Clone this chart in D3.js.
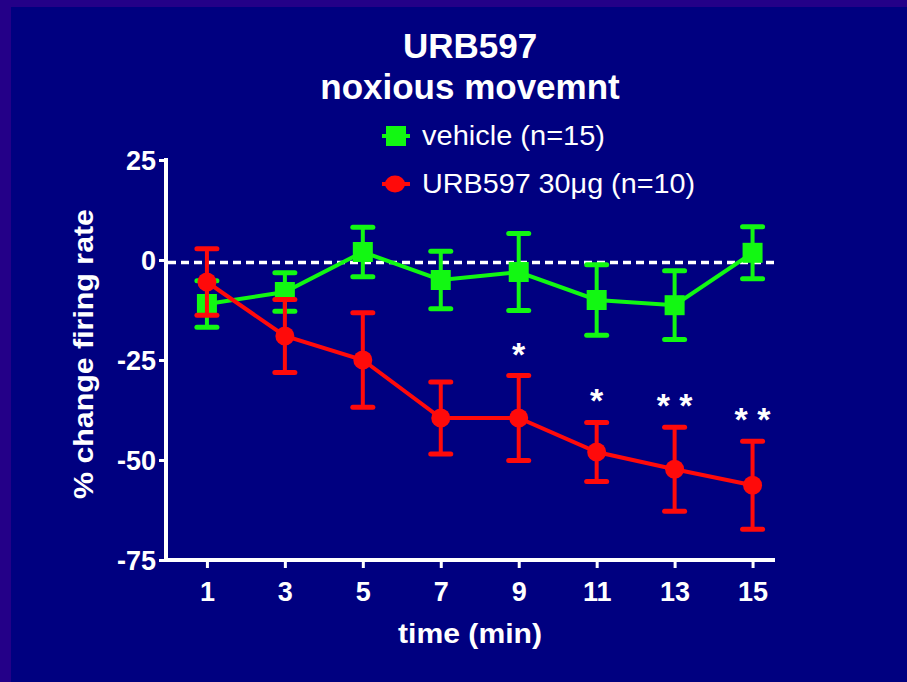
<!DOCTYPE html>
<html>
<head>
<meta charset="utf-8">
<script src="https://cdn.jsdelivr.net/npm/d3@7"></script>
<style>
  html, body { margin: 0; padding: 0; background: #000080; }
  svg { display: block; }
  text { font-family: "Liberation Sans", Arial, sans-serif; fill: #ffffff; }
</style>
</head>
<body>
<svg id="chart" width="907" height="682"></svg>
<script>
// ---- data ----
const times = [1, 3, 5, 7, 9, 11, 13, 15];
const vehicleMean = [-11, -8, 2, -5, -3, -10, -11.3, 1.8];
const vehicleSem  = [5.8, 4.8, 6.2, 7.2, 9.6, 8.8, 8.6, 6.5];
const urbMean = [-5.5, -19, -25, -39.5, -39.5, -48, -52.3, -56.3];
const urbSem  = [8.3, 9.1, 11.8, 9.0, 10.6, 7.4, 10.5, 11.0];
const significance = ["", "", "", "", "*", "*", "* *", "* *"];
const yTicks = [-75, -50, -25, 0, 25];
const baselineValue = -0.6;
const titleLines = ["URB597", "noxious movemnt"];
const legendLabels = ["vehicle (n=15)", "URB597 30\u03BCg (n=10)"];
const xLabel = "time (min)";
const yLabel = "% change firing rate";

// ---- layout ----
const svg = d3.select("#chart");
const W = 907, H = 682;
const green = "#12f812", red = "#ff0a0a";
const numFmt = d => String(d);

// background + border strips
svg.append("rect").attr("width", W).attr("height", H).attr("fill", "#240088");
svg.append("rect").attr("x", 11).attr("y", 7).attr("width", W - 11).attr("height", H - 7).attr("fill", "#000080");

const x = d3.scaleLinear().domain([-0.05, 15.55]).range([166, 774]);
const y = d3.scaleLinear().domain([-75, 25]).range([560, 160]);

// title
svg.selectAll("text.title").data(titleLines).enter().append("text")
  .attr("class", "title")
  .attr("x", 470).attr("y", (d, i) => 58 + i * 41)
  .attr("text-anchor", "middle")
  .attr("font-size", 35).attr("font-weight", "bold")
  .text(d => d);

// y axis
const yAxis = svg.append("g").attr("transform", "translate(166,0)")
  .call(d3.axisLeft(y).tickValues(yTicks).tickSize(7).tickPadding(3).tickFormat(numFmt));
yAxis.select(".domain").attr("stroke", "#fff").attr("stroke-width", 4).attr("d", "M0,158V562");
yAxis.selectAll(".tick line").attr("stroke", "#fff").attr("stroke-width", 3);
yAxis.selectAll(".tick text").attr("fill", "#fff").attr("font-size", 27).attr("font-weight", "bold")
  .attr("font-family", "Liberation Sans, Arial, sans-serif").attr("dy", "0.35em");

// x axis
const xAxis = svg.append("g").attr("transform", "translate(0,560)")
  .call(d3.axisBottom(x).tickValues(times).tickSize(8).tickPadding(14).tickFormat(numFmt));
xAxis.select(".domain").attr("stroke", "#fff").attr("stroke-width", 4).attr("d", "M164,0H775");
xAxis.selectAll(".tick line").attr("stroke", "#fff").attr("stroke-width", 3);
xAxis.selectAll(".tick text").attr("fill", "#fff").attr("font-size", 27).attr("font-weight", "bold")
  .attr("font-family", "Liberation Sans, Arial, sans-serif");

// axis titles
svg.append("text").attr("x", 470).attr("y", 643).attr("text-anchor", "middle")
  .attr("font-size", 28).attr("font-weight", "bold")
  .attr("textLength", 144).attr("lengthAdjust", "spacingAndGlyphs")
  .text(xLabel);
svg.append("text").attr("transform", "translate(93,354) rotate(-90)")
  .attr("text-anchor", "middle")
  .attr("font-size", 28).attr("font-weight", "bold")
  .attr("textLength", 290).attr("lengthAdjust", "spacingAndGlyphs")
  .text(yLabel);

// baseline dashed
svg.append("line").attr("x1", 168).attr("x2", 778)
  .attr("y1", y(baselineValue)).attr("y2", y(baselineValue))
  .attr("stroke", "#fff").attr("stroke-width", 3.5).attr("stroke-dasharray", "8,5");

function drawSeries(means, sems, color, shape) {
  const g = svg.append("g");
  const pts = times.map((t, i) => ({ t, m: means[i], s: sems[i] }));
  pts.forEach(p => {
    g.append("line").attr("x1", x(p.t)).attr("x2", x(p.t))
      .attr("y1", y(p.m + p.s)).attr("y2", y(p.m - p.s))
      .attr("stroke", color).attr("stroke-width", 4);
    [p.m + p.s, p.m - p.s].forEach(v => {
      g.append("line").attr("x1", x(p.t) - 10).attr("x2", x(p.t) + 10)
        .attr("y1", y(v)).attr("y2", y(v))
        .attr("stroke", color).attr("stroke-width", 5).attr("stroke-linecap", "round");
    });
  });
  g.append("path").datum(pts)
    .attr("d", d3.line().x(p => x(p.t)).y(p => y(p.m)))
    .attr("fill", "none").attr("stroke", color).attr("stroke-width", 4);
  pts.forEach(p => {
    if (shape === "square") {
      g.append("rect").attr("x", x(p.t) - 10).attr("y", y(p.m) - 10)
        .attr("width", 20).attr("height", 20).attr("fill", color);
    } else {
      g.append("circle").attr("cx", x(p.t)).attr("cy", y(p.m)).attr("r", 9.5).attr("fill", color);
    }
  });
}
drawSeries(vehicleMean, vehicleSem, green, "square");
drawSeries(urbMean, urbSem, red, "circle");

// significance stars
svg.selectAll("text.sig").data(times.map((t, i) => ({ t, s: significance[i], top: urbMean[i] + urbSem[i] })))
  .enter().append("text").attr("class", "sig")
  .attr("x", d => x(d.t)).attr("y", d => y(d.top) - 30 + 20)
  .attr("text-anchor", "middle")
  .attr("font-size", 34).attr("font-weight", "bold")
  .text(d => d.s);

// legend
const legend = [
  { label: legendLabels[0], color: green, shape: "square", cy: 136, len: 183 },
  { label: legendLabels[1], color: red, shape: "circle", cy: 184, len: 273 }
];
legend.forEach(l => {
  svg.append("line").attr("x1", 382).attr("x2", 410).attr("y1", l.cy).attr("y2", l.cy)
    .attr("stroke", l.color).attr("stroke-width", 4);
  if (l.shape === "square") {
    svg.append("rect").attr("x", 386).attr("y", l.cy - 10).attr("width", 20).attr("height", 20).attr("fill", l.color);
  } else {
    svg.append("ellipse").attr("cx", 395).attr("cy", l.cy).attr("rx", 10).attr("ry", 8.5).attr("fill", l.color);
  }
  svg.append("text").attr("x", 422).attr("y", l.cy + 9)
    .attr("font-size", 27)
    .attr("textLength", l.len).attr("lengthAdjust", "spacingAndGlyphs")
    .text(l.label);
});
</script>
</body>
</html>
